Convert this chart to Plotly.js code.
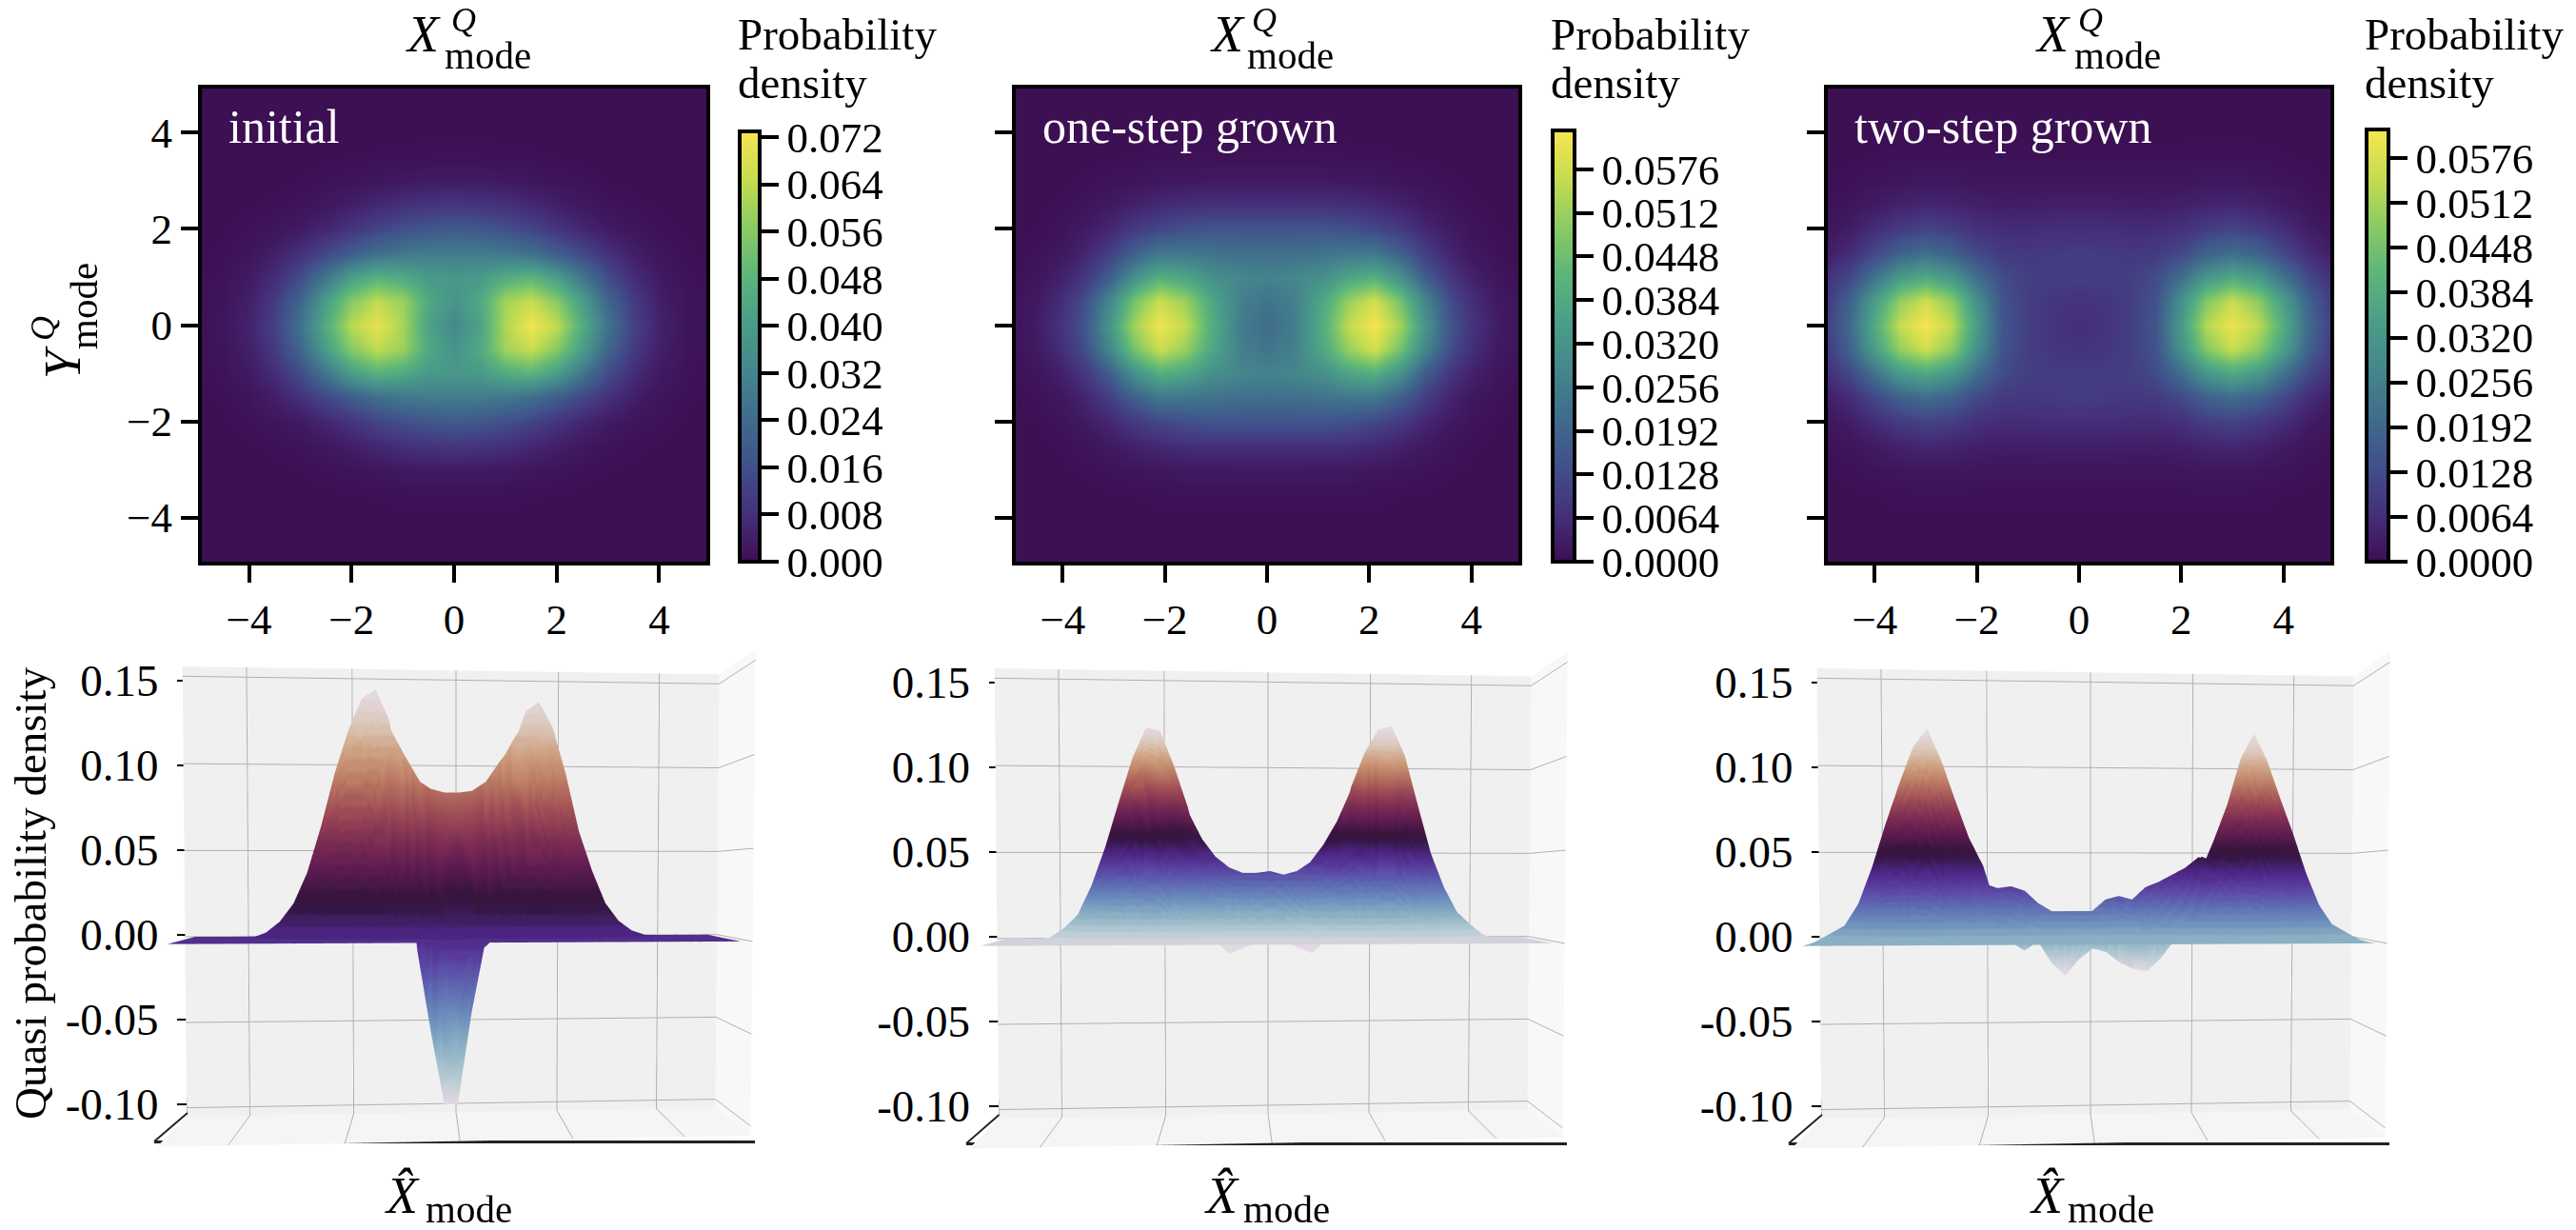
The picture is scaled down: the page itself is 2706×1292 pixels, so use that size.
<!DOCTYPE html>
<html>
<head>
<meta charset="utf-8">
<script src="https://cdn.plot.ly/plotly-3.0.1.min.js"></script>
<style>html,body{margin:0;padding:0;background:#fff}</style>
</head>
<body>
<div id="graph" style="width:2706px;height:1292px"></div>
<script>
// --- heatmap values, in thousandths, rows go y = 0 upwards (mirrored for y < 0) ---
const hmY = [0, 0.5, 1, 1.5, 2, 2.5, 3, 3.5, 4, 5];

const hm1X = [-5,-4.5,-4,-3.5,-3,-2.5,-2,-1.5,-1,-0.5,0,0.5,1,1.5,2,2.5,3,3.5,4,4.5,5];
const hm1Rows = [
  [0.5,1.8,5,12.5,26,45,63,70,61,42,33,42,62,72,64,45,26,12.5,5,1.8,0.5],
  [0.4,1.5,4.2,10.5,22,40,56,64,59,44,37,44,60,65,56,40,22,10.5,4.2,1.5,0.4],
  [0.3,1,3,7,15,27,40,47,44,39,38,39,45,48,40,27,15,7,3,1,0.3],
  [0.1,0.5,1.5,4,8,14,20,25,28,29,29,29,28,25,20,14,8,4,1.5,0.5,0.1],
  [0.05,0.2,0.7,1.5,3,5.5,9,13,16,18,19,18,16,13,9,5.5,3,1.5,0.7,0.2,0.05],
  [0,0.05,0.2,0.5,1,2.3,4,6,8,9,9.5,9,8,6,4,2.3,1,0.5,0.2,0.05,0],
  [0,0,0.05,0.15,0.3,0.7,1.2,1.9,2.6,3,3.2,3,2.6,1.9,1.2,0.7,0.3,0.15,0.05,0,0],
  [0,0,0,0.05,0.1,0.15,0.3,0.45,0.6,0.7,0.8,0.7,0.6,0.45,0.3,0.15,0.1,0.05,0,0,0],
  [0,0,0,0,0,0.05,0.05,0.1,0.15,0.15,0.2,0.15,0.15,0.1,0.05,0.05,0,0,0,0,0],
  [0,0,0,0,0,0,0,0,0,0,0,0,0,0,0,0,0,0,0,0,0]
];

const hm2X = [-5,-4.5,-4,-3.6,-3.1,-2.6,-2.1,-1.6,-1.1,-0.5,0,0.5,1.1,1.6,2.1,2.6,3.1,3.6,4,4.5,5];
const hm2Rows = [
  [1,3,8,15,32,52,62,56,40,25,21,25,40,56,63,52,32,15,8,3,1],
  [0.8,2.5,6.5,13,28,46,57,51,38,26,23,26,38,51,58,46,28,13,6.5,2.5,0.8],
  [0.4,1.5,4,8,17,31,40,37,31,28,27,28,31,37,40,31,17,8,4,1.5,0.4],
  [0.2,0.7,2,4.5,10,18,24,24,23,22,22,22,23,24,24,18,10,4.5,2,0.7,0.2],
  [0.1,0.3,1,2.5,5,9,12,14,15,15,15,15,15,14,12,9,5,2.5,1,0.3,0.1],
  [0,0.1,0.4,1,2.3,4,5.5,6.5,7,7,7,7,7,6.5,5.5,4,2.3,1,0.4,0.1,0],
  [0,0,0.15,0.4,0.8,1.3,1.8,2.2,2.4,2.5,2.5,2.5,2.4,2.2,1.8,1.3,0.8,0.4,0.15,0,0],
  [0,0,0,0.1,0.2,0.3,0.5,0.6,0.7,0.7,0.7,0.7,0.7,0.6,0.5,0.3,0.2,0.1,0,0,0],
  [0,0,0,0,0,0.1,0.1,0.1,0.15,0.15,0.15,0.15,0.15,0.1,0.1,0.1,0,0,0,0,0],
  [0,0,0,0,0,0,0,0,0,0,0,0,0,0,0,0,0,0,0,0,0]
];

const hm3X = [-5,-4.5,-4,-3.5,-3,-2.5,-2,-1.5,-1,-0.5,0,0.5,1,1.5,2,2.5,3,3.5,4,4.5,5];
const hm3Rows = [
  [9,20,38,55,61.5,54,33,15,10,7.5,6.5,7.5,10,15,33,53,60,54,38,20,9],
  [8,18,34,49,56,48,30,14,10,8,7.5,8,10,14,30,47,55,48,34,18,8],
  [6,12,22,33,37,32,21,12.5,10,9.5,9.5,9.5,10,12.5,21,32,37,33,22,12,6],
  [3,6,12,18,21,18,12,9,8.5,9,9.5,9,8.5,9,12,18,21,18,12,6,3],
  [1.2,3,6,9,11,9.5,7,6,6,6.5,6.5,6.5,6,6,7,9.5,11,9,6,3,1.2],
  [0.5,1.3,2.6,4,5,4.5,3.5,3.2,3.3,3.5,3.5,3.5,3.3,3.2,3.5,4.5,5,4,2.6,1.3,0.5],
  [0.2,0.5,1,1.5,1.9,1.8,1.5,1.5,1.5,1.5,1.5,1.5,1.5,1.5,1.5,1.8,1.9,1.5,1,0.5,0.2],
  [0.05,0.15,0.3,0.5,0.6,0.6,0.5,0.5,0.5,0.5,0.5,0.5,0.5,0.5,0.5,0.6,0.6,0.5,0.3,0.15,0.05],
  [0,0.05,0.1,0.15,0.15,0.15,0.15,0.15,0.15,0.15,0.15,0.15,0.15,0.15,0.15,0.15,0.15,0.15,0.1,0.05,0],
  [0,0,0,0,0,0,0,0,0,0,0,0,0,0,0,0,0,0,0,0,0]
];

const hmCmax = [0.073, 0.0633, 0.0617];
const cbTicks = [
  [0, 0.008, 0.016, 0.024, 0.032, 0.04, 0.048, 0.056, 0.064, 0.072],
  [0, 0.0064, 0.0128, 0.0192, 0.0256, 0.032, 0.0384, 0.0448, 0.0512, 0.0576],
  [0, 0.0064, 0.0128, 0.0192, 0.0256, 0.032, 0.0384, 0.0448, 0.0512, 0.0576]
];
const cbText = [
  ['0.000','0.008','0.016','0.024','0.032','0.040','0.048','0.056','0.064','0.072'],
  ['0.0000','0.0064','0.0128','0.0192','0.0256','0.0320','0.0384','0.0448','0.0512','0.0576'],
  ['0.0000','0.0064','0.0128','0.0192','0.0256','0.0320','0.0384','0.0448','0.0512','0.0576']
];
const panelNames = ['initial', 'one-step grown', 'two-step grown'];

// --- surface values, in thousandths, rows go y = 0 upwards (mirrored for y < 0) ---
const surfX = [-5,-4.5,-4.25,-4,-3.75,-3.5,-3.25,-3,-2.75,-2.5,-2.25,-2,-1.75,-1.5,-1.25,-1,-0.75,-0.5,-0.25,0,0.25,0.5,0.75,1,1.25,1.5,1.75,2,2.25,2.5,2.75,3,3.25,3.5,3.75,4,4.25,4.5,5];
const surfY = [0, 0.5, 1, 1.5, 2, 2.5, 3, 4, 5];
const zeroRow = [0,0,0,0,0,0,0,0,0,0,0,0,0,0,0,0,0,0,0,0,0,0,0,0,0,0,0,0,0,0,0,0,0,0,0,0,0,0,0];

const surf1Rows = [
  [0,0,0.1,0.4,1.2,4,10,20,37,62,91,115,133,138,121,70,-6,-52,-93,-93,-42,-3,48,105,127,132,118,92,60,38,20,10,4.5,2,0.8,0.3,0.1,0,0],
  [0,0,0.1,0.3,1,3.5,9,18,33,54,80,101,117,122,117,103,90,78,30,27,30,78,96,110,122,120,105,82,53,33,17,9,4,1.8,0.7,0.3,0.1,0,0],
  [0,0,0,0.2,0.7,2.4,6.5,13,22,36,50,64,78,92,104,99,88,83,81,81,82,87,98,108,106,88,72,55,36,22,12,6,2.7,1.2,0.5,0.2,0,0,0],
  [0,0,0,0.1,0.4,1.3,3.5,7,12,20,28,36,42,45,42,36,28,20,14,12,14,20,27,35,41,43,40,30,20,12,6.5,3.3,1.5,0.7,0.3,0.1,0,0,0],
  [0,0,0,0,0.2,0.5,1.4,3,5,8,12,15,17,18,15,10,4,-3,-9,-11,-9,-3,4,10,15,17,16,12,8,5,2.7,1.4,0.6,0.3,0.1,0,0,0,0],
  [0,0,0,0,0.1,0.2,0.5,1,1.7,2.6,3.8,5,5.7,6,5.5,4.5,3.2,2,1.2,1,1.2,2,3.2,4.5,5.3,5.6,5.3,3.9,2.6,1.6,0.9,0.5,0.2,0.1,0,0,0,0,0],
  [0,0,0,0,0,0,0.1,0.2,0.4,0.6,0.9,1.2,1.4,1.5,1.5,1.6,1.8,2,2.2,2.3,2.2,2,1.8,1.6,1.4,1.4,1.3,1,0.6,0.4,0.2,0.1,0.05,0,0,0,0,0,0],
  zeroRow, zeroRow
];
const surf2Rows = [
  [0,0,0.8,2.5,7.5,15,31,52,77,101,118,116,97,74,45,28,12,6,4,5,4,6,12,28,50,86,105,118,120,104,76,49,30,16,9,3,0.8,0.1,0],
  [0,0,0.6,2,6.5,13,28,46,68,88,101,99,86,72,57,47,41,38,38,39,37,39,44,54,67,84,96,104,103,90,67,43,26,14,8,2.6,0.6,0.1,0],
  [0,0,0.4,1.5,4.5,9,19,31,46,60,69,66,55,42,32,25,25,29,33,34,33,29,25,28,38,50,62,69,69,61,46,29,18,10,5.5,1.8,0.4,0,0],
  [0,0,0.2,0.8,2.4,5,10,17,25,32,37,36,30,23,16,10,8,9,11,12,11,9,9,14,20,27,33,37,37,33,25,16,10,5,3,1,0.2,0,0],
  [0,0,0.1,0.3,1,2,4.5,7,10.5,13.5,15.5,15,12.5,9.5,6,1,-6,-3,0,1,0,-3,-6,1,8,11,14,15.5,15.5,13.5,10,7,4,2,1.2,0.4,0.1,0,0],
  [0,0,0,0.1,0.3,0.7,1.4,2.3,3.4,4.4,5,5,4,3,2,1.5,1.5,1.5,1.5,1.5,1.5,1.5,1.5,1.5,2.5,3.5,4.5,5,5,4.4,3.3,2.2,1.3,0.7,0.3,0.1,0,0,0],
  [0,0,0,0,0,0.2,0.3,0.6,0.9,1.1,1.3,1.3,1,0.8,0.5,0.4,0.3,0.3,0.3,0.3,0.3,0.3,0.3,0.4,0.6,0.9,1.1,1.3,1.3,1.1,0.8,0.5,0.3,0.2,0,0,0,0,0],
  zeroRow, zeroRow
];
const surf3Rows = [
  [0.5,9,21,41,65,87,107,117,100,78,57,42,18,8,4,3,3,3,3,3,3,3,4,6,9,14,24,38,56,76,102,116,101,80,60,38,20,9,0.5],
  [0.4,8,18,36,57,76,93,100,90,70,49,32,15,0,-5,0,-12,-19,-10,-4,-6,-12,-15.5,-17,-10,0,18,33,49,69,90,99,88,70,53,33,18,8,0.4],
  [0.3,5.5,12.5,25,39,52,63,68,62,50,38,32,29.5,30.5,28,21,16.5,16.5,16.5,16.5,23,25,23,30,33,37,41,47,44,50,61,67,60,48,36,23,12,5,0.3],
  [0.2,3,6.5,13,21,28,34,37,34,27,19,13,10,9,8,7,6,5,4,4,5,5,5,6,8,10,12,14,19,26,33,36,32,26,20,12,6,3,0.2],
  [0.1,1.2,2.8,5.5,9,11.5,14,15.5,14,11,8,6,5,4.5,3,3,3,2,2,2,2,2,3,3,4,5,6,6,8,11,14,15,13,11,8,5,2.8,1.2,0.1],
  [0,0.4,0.9,1.8,2.9,3.8,4.6,5,4.6,3.6,2.6,2,1.5,1.2,1,1,1,0.8,0.7,0.7,0.7,0.8,1,1,1.2,1.4,1.7,2,2.6,3.6,4.6,5,4.4,3.5,2.6,1.7,0.9,0.4,0],
  [0,0.1,0.25,0.5,0.7,0.9,1.1,1.3,1.1,0.9,0.6,0.5,0.4,0.3,0.2,0.2,0.2,0.2,0.2,0.2,0.2,0.2,0.2,0.2,0.3,0.3,0.4,0.5,0.6,0.9,1.1,1.2,1.1,0.9,0.7,0.5,0.25,0.1,0],
  zeroRow, zeroRow
];
const surfRange = [[-96, 139], [-4, 120], [-19, 117]];
const zTicks = [-0.1, -0.05, 0, 0.05, 0.1, 0.15];
const zTickText = ['-0.10', '-0.05', '0.00', '0.05', '0.10', '0.15'];

// --- colours ---
const viridisStops = [[0,'#3d0f53'],[0.111,'#45307b'],[0.222,'#41508a'],[0.333,'#3f6c8c'],[0.444,'#45868c'],[0.556,'#4a9e88'],[0.667,'#5db57a'],[0.778,'#8bcb63'],[0.889,'#c6dc50'],[1,'#f8e550']];
const twilightStops = ['#e2d9e2','#b6cbd3','#8bb0c4','#6a8dbb','#5e68b2','#5a40a0','#4b2480','#2f1436','#5a1a50','#7c2b52','#9d4a55','#b97660','#cfa080','#dcc9bb','#e2d9e2'];

const W = 2706, H = 1292, serif = 'Liberation Serif';
const px = x => x / W;
const py = y => 1 - y / H;

function mirror(rows) {
  const m = rows.map(r => r.map(v => v / 1000));
  return m.slice(1).reverse().concat(m);
}
function mirrorAxis(v) {
  return v.slice(1).map(a => -a).reverse().concat(v);
}
// cut the twilight colours into flat steps, the reference shows flat bands
function steppedScale(stops, n) {
  const out = [];
  for (let i = 0; i < n; i++) {
    const t = (i / (n - 1)) * (stops.length - 1);
    const a = stops[Math.floor(t)], b = stops[Math.min(Math.floor(t) + 1, stops.length - 1)];
    const f = t - Math.floor(t);
    const mix = [1, 3, 5].map(k => Math.round(parseInt(a.substr(k, 2), 16) * (1 - f) + parseInt(b.substr(k, 2), 16) * f));
    const col = 'rgb(' + mix.join(',') + ')';
    out.push([i / n, col], [(i + 1) / n, col]);
  }
  return out;
}

// pixel layout per column
const hmFrames = [[212, 742], [1067, 1595], [1920, 2448]];
const cbLeft = [777, 1631, 2486];
const cbTop = [138, 137, 136];
const cbThick = [21, 23, 23];
const wallLeft = [197, 1049.5, 1914];
const sceneMid = [[477.5, 937], [1330.6, 939], [2194.5, 939]];
const sceneW = 720, sceneH = 600;

const hmData = [[hm1X, hm1Rows], [hm2X, hm2Rows], [hm3X, hm3Rows]];
const surfData = [surf1Rows, surf2Rows, surf3Rows];

const data = [];
const layout = {
  width: W, height: H, margin: {l: 0, r: 0, t: 0, b: 0},
  paper_bgcolor: 'white', plot_bgcolor: 'white', showlegend: false,
  font: {family: serif, color: 'black', size: 44},
  annotations: [], shapes: []
};

function note(text, x, y, size, opts) {
  layout.annotations.push(Object.assign({
    text: text, x: px(x), y: py(y), xref: 'paper', yref: 'paper',
    showarrow: false, xanchor: 'center', yanchor: 'middle',
    font: {family: serif, size: size, color: 'black'}
  }, opts || {}));
}

for (let i = 0; i < 3; i++) {
  const n = i + 1;
  data.push({
    type: 'heatmap', x: hmData[i][0], y: mirrorAxis(hmY), z: mirror(hmData[i][1]),
    xaxis: 'x' + n, yaxis: 'y' + n, zsmooth: 'best', zmin: 0, zmax: hmCmax[i],
    colorscale: viridisStops, hoverinfo: 'skip',
    colorbar: {
      xref: 'paper', yref: 'paper', x: px(cbLeft[i]), xanchor: 'left', y: py(590), yanchor: 'bottom',
      lenmode: 'pixels', len: 590 - cbTop[i], thicknessmode: 'pixels', thickness: cbThick[i],
      xpad: 0, ypad: 0, outlinewidth: 4, outlinecolor: 'black',
      ticks: 'outside', ticklen: 18, tickwidth: 4, tickcolor: 'black',
      tickmode: 'array', tickvals: cbTicks[i], ticktext: cbText[i],
      tickfont: {family: serif, size: 45, color: 'black'}
    }
  });
  layout['xaxis' + n] = {
    domain: [px(hmFrames[i][0]), px(hmFrames[i][1])], range: [-4.92, 4.92], anchor: 'y' + n,
    showline: true, linewidth: 4, linecolor: 'black', mirror: true, showgrid: false, zeroline: false,
    ticks: 'outside', ticklen: 18, tickwidth: 4, tickcolor: 'black',
    tickvals: [-4, -2, 0, 2, 4], tickfont: {family: serif, size: 45}
  };
  layout['yaxis' + n] = {
    domain: [py(590), py(93)], range: [-4.92, 4.92], anchor: 'x' + n,
    showline: true, linewidth: 4, linecolor: 'black', mirror: true, showgrid: false, zeroline: false,
    ticks: 'outside', ticklen: 18, tickwidth: 4, tickcolor: 'black',
    tickvals: [-4, -2, 0, 2, 4], showticklabels: i === 0, tickfont: {family: serif, size: 45}
  };

  // surface in its own scene; eye is just off centre so the floor and right wall get drawn
  const sid = n === 1 ? 'scene' : 'scene' + n;
  data.push({
    type: 'surface', scene: sid, x: surfX, y: mirrorAxis(surfY), z: mirror(surfData[i]),
    cmin: surfRange[i][0] / 1000, cmax: surfRange[i][1] / 1000,
    colorscale: steppedScale(twilightStops, 36), showscale: false, hoverinfo: 'skip',
    lighting: {ambient: 1, diffuse: 0, specular: 0, roughness: 1, fresnel: 0}
  });
  const mx = sceneMid[i][0], my = sceneMid[i][1];
  const sx = mx + 3, sy = my + 1.5;
  const noLabels = {showticklabels: false, ticks: '', title: {text: ''}, showspikes: false, zeroline: false, showbackground: true, showline: false};
  layout[sid] = {
    domain: {x: [px(sx - sceneW / 2), px(sx + sceneW / 2)], y: [py(sy + sceneH / 2), py(sy - sceneH / 2)]},
    aspectmode: 'manual', aspectratio: {x: 1, y: 0.1437, z: 0.8286},
    camera: {eye: {x: -0.06, y: -1.22, z: 0.03}, center: {x: 0, y: 0, z: 0}, up: {x: 0, y: 0, z: 1}},
    xaxis: Object.assign({}, noLabels, {range: [-5.2, 5.2], tickvals: [-4, -2, 0, 2, 4], gridcolor: '#b0b0b0', gridwidth: 2, backgroundcolor: '#f8f8f8'}),
    yaxis: Object.assign({}, noLabels, {range: [-5.2, 5.2], showgrid: false, backgroundcolor: '#f0f0f0'}),
    zaxis: Object.assign({}, noLabels, {range: [-0.1052, 0.1556], tickvals: zTicks, gridcolor: '#b0b0b0', gridwidth: 2, backgroundcolor: '#f5f5f5'})
  };

  // z tick labels and the black edge lines come from plain axes lined up with the box
  const xa = 'xaxis' + (n + 3), ya = 'yaxis' + (n + 3);
  data.push({type: 'scatter', x: [], y: [], xaxis: 'x' + (n + 3), yaxis: 'y' + (n + 3), hoverinfo: 'skip'});
  const top = my - 232, bottom = my + 232;
  layout[xa] = {
    domain: [px(mx - 315.5), px(mx + 315.5)], anchor: 'free', position: py(my + 262),
    showline: true, linewidth: 3, linecolor: '#222', showgrid: false, zeroline: false, ticks: '', showticklabels: false
  };
  layout[ya] = {
    domain: [py(bottom), py(top)], range: [-0.1052, 0.1556], anchor: 'free', position: px(wallLeft[i]),
    showline: true, linewidth: 2, linecolor: 'black', showgrid: false, zeroline: false,
    ticks: 'outside', ticklen: 10, tickwidth: 2, tickcolor: 'black', ticklabelstandoff: 10,
    tickvals: zTicks, ticktext: zTickText, tickfont: {family: serif, size: 47}
  };
  layout.shapes.push({
    type: 'line', xref: 'paper', yref: 'paper', layer: 'above',
    x0: px(wallLeft[i]), y0: py(bottom), x1: px(mx - 315.5), y1: py(my + 262),
    line: {color: '#222', width: 2}
  });

  note(panelNames[i], hmFrames[i][0] + 26, 133, 50, {xanchor: 'left', font: {family: serif, size: 50, color: 'white'}});
  note('Probability', cbLeft[i] - 4, 36, 47, {xanchor: 'left'});
  note('density', cbLeft[i] - 4, 87, 47, {xanchor: 'left'});
}

// stacked sup/sub titles on the heatmaps and hatted labels under the surfaces
const titleX = [[424, 472, 465], [1269, 1313, 1308], [2136, 2181, 2177]];
const hatX = [[402, 445], [1263, 1304], [2130, 2170]];
for (let i = 0; i < 3; i++) {
  note('<i>X</i>', titleX[i][0], 36, 54, {xanchor: 'left'});
  note('<i>Q</i>', titleX[i][1], 21, 36, {xanchor: 'left'});
  note('mode', titleX[i][2], 58, 41, {xanchor: 'left'});
  note('<i>X\u0302</i>', hatX[i][0], 1256, 54, {xanchor: 'left'});
  note('mode', hatX[i][1], 1270, 41, {xanchor: 'left'});
}
note('<i>Y</i>', 66, 381, 54, {textangle: -90});
note('<i>Q</i>', 45, 345, 36, {textangle: -90});
note('mode', 88, 322, 41, {textangle: -90});
note('Quasi probability density', 32, 938, 47, {textangle: -90});

Plotly.newPlot('graph', data, layout, {displayModeBar: false});
</script>
</body>
</html>
